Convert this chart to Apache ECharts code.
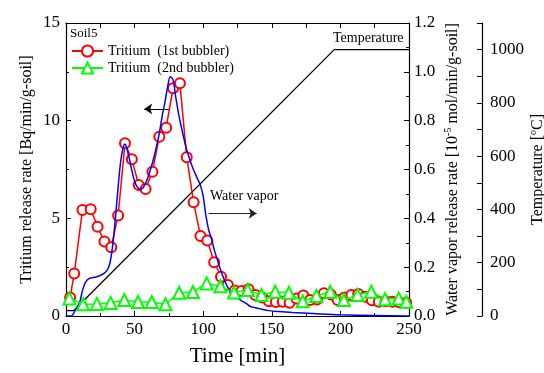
<!DOCTYPE html>
<html>
<head>
<meta charset="utf-8">
<script src="https://cdn.jsdelivr.net/npm/echarts@6/dist/echarts.min.js"></script>
<style>html,body{margin:0;padding:0;background:#fff}#chart{width:544px;height:373px}</style>
</head>
<body>
<div id="chart"></div>
<script>
// Soil5 tritium / water vapour release vs time, three y scales.
const redTime = [3, 6, 12, 18, 23, 28, 33, 38, 43, 48, 53, 58, 63, 68, 73, 78, 83, 88, 93, 98,
  103, 108, 113, 118, 123, 128, 133, 138, 143, 148, 153, 158, 163, 168, 173, 178, 183, 188, 193, 198,
  203, 208, 213, 218, 223, 228, 233, 238, 243, 248];
const redRate = [0.95, 2.17, 5.43, 5.46, 4.57, 3.81, 3.52, 5.15, 8.84, 8.02, 6.71, 6.5, 7.39, 9.18, 9.64, 11.66, 11.91, 8.13, 5.82, 4.1,
  3.87, 2.75, 2.01, 1.59, 1.31, 1.28, 1.37, 1.08, 0.95, 0.75, 0.72, 0.73, 0.68, 0.9, 1.05, 0.82, 0.85, 1.16, 1.1, 0.82,
  0.95, 1.08, 1.13, 0.99, 0.8, 0.73, 0.75, 0.73, 0.7, 0.68];

const greenTime = [2.5, 12.5, 22.5, 32.5, 42.5, 52.5, 62.5, 72.5, 82.5, 92.5, 102.5, 112.5, 122.5,
  132.5, 142.5, 152.5, 162.5, 172.5, 182.5, 192.5, 202.5, 212.5, 222.5, 232.5, 242.5, 248];
const greenRate = [0.9, 0.6, 0.62, 0.67, 0.82, 0.72, 0.72, 0.6, 1.19, 1.23, 1.67, 1.52, 1.2,
  1.33, 1.08, 1.24, 1.19, 0.75, 1.03, 1.24, 0.82, 1.08, 1.24, 0.86, 0.9, 0.73];

// water vapour, 10^-5 mol/min/g-soil (right axis)
const vaporTime = [0, 4, 6, 8, 10, 12, 14, 17, 22, 27, 30, 32, 34, 36, 38, 40, 42, 43, 44, 46, 48, 50,
  52, 54, 56, 58, 60, 62, 64, 66, 68, 70, 72, 74, 76, 78, 80, 82, 84, 86, 88, 90, 92, 94, 96, 98, 100,
  102, 104, 106, 108, 110, 112, 114, 116, 118, 120, 122, 125, 128, 131, 134, 138, 142, 148, 155, 165,
  180, 200, 225, 250];
const vaporRate = [0, 0, 0.016, 0.036, 0.056, 0.104, 0.136, 0.154, 0.16, 0.172, 0.188, 0.216, 0.288, 0.4, 0.528, 0.64, 0.696, 0.704, 0.692, 0.648, 0.596, 0.552,
  0.528, 0.52, 0.524, 0.544, 0.572, 0.608, 0.648, 0.696, 0.748, 0.816, 0.872, 0.936, 0.98, 0.968, 0.896, 0.83, 0.775, 0.725, 0.68, 0.645, 0.612, 0.585, 0.56, 0.535, 0.49,
  0.41, 0.352, 0.316, 0.272, 0.236, 0.2, 0.168, 0.14, 0.116, 0.1, 0.088, 0.074, 0.062, 0.053, 0.04, 0.034, 0.029, 0.022, 0.018, 0.014,
  0.01, 0.005, 0.002, 0];

const tempTime = [0, 5.5, 195.5, 250];
const tempValue = [20, 20, 1000, 1000];

const SERIF = "'Liberation Serif', 'DejaVu Serif', serif";
const INK = "#000";
const RED = "#ff0000", GREEN = "#00ff00", BLUE = "#0000ff";

const zip = (xs, ys) => xs.map((x, i) => [x, ys[i]]);

const axisLine = { show: true, onZero: false, lineStyle: { color: INK, width: 1.2 } };
const tick = { show: true, inside: true, length: 5, lineStyle: { color: INK, width: 1 } };
const minor = { show: true, splitNumber: 2, length: 3, lineStyle: { color: INK, width: 1 } };
const label = { color: INK, fontFamily: SERIF, fontSize: 17 };
const nameStyle = {
  color: INK, fontFamily: SERIF, fontSize: 16,
  rich: { sup: { color: INK, fontFamily: SERIF, fontSize: 10, padding: [0, 0, 9, 0] } },
};
const arrow = (color) => ({
  silent: true, symbol: ["none", "arrow"], symbolSize: 8,
  label: { show: false }, lineStyle: { color, width: 1, type: "solid" },
  itemStyle: { color },
});

const chart = echarts.init(document.getElementById("chart"), null, { renderer: "canvas" });
chart.setOption({
  animation: false,
  backgroundColor: "#fff",
  grid: { left: 66, right: 135, top: 23, bottom: 57, outerBoundsMode: "none", containLabel: false },
  legend: {
    data: ["Tritium  (1st bubbler)", "Tritium  (2nd bubbler)"],
    orient: "vertical", left: 71, top: 44, padding: 0,
    itemWidth: 31, itemHeight: 14, itemGap: 3,
    textStyle: { color: INK, fontFamily: SERIF, fontSize: 14 },
  },
  graphic: [
    { type: "text", left: 70, top: 27, style: { text: "Soil5", font: "13px " + SERIF, fill: INK } },
    { type: "text", left: 333, top: 31, style: { text: "Temperature", font: "14px " + SERIF, fill: INK } },
    { type: "text", left: 210, top: 189, style: { text: "Water vapor", font: "14px " + SERIF, fill: INK } },
  ],
  xAxis: [
    {
      type: "value", min: 0, max: 250, interval: 50, position: "bottom",
      axisLine, axisTick: tick, minorTick: minor, splitLine: { show: false },
      axisLabel: { ...label, margin: 5 },
      name: "Time [min]", nameLocation: "middle", nameGap: 30, nameMoveOverlap: false,
      nameTextStyle: { color: INK, fontFamily: SERIF, fontSize: 21 },
    },
    {
      type: "value", min: 0, max: 250, interval: 25, position: "top",
      axisLine, axisTick: tick, axisLabel: { show: false }, splitLine: { show: false },
    },
  ],
  yAxis: [
    {
      type: "value", min: 0, max: 15, interval: 5, position: "left",
      axisLine, axisTick: tick, minorTick: minor, splitLine: { show: false },
      axisLabel: { ...label, margin: 6 },
      name: "Tritium release rate [Bq/min/g-soil]", nameLocation: "middle", nameRotate: 90,
      nameGap: 31, nameMoveOverlap: false, nameTextStyle: nameStyle,
    },
    {
      type: "value", min: 0, max: 1.2, interval: 0.2, position: "right",
      axisLine, axisTick: tick, minorTick: minor, splitLine: { show: false },
      axisLabel: { ...label, margin: 5, formatter: (v) => v.toFixed(1) },
      name: "Water vapor release rate [10{sup|-5} mol/min/g-soil]", nameLocation: "middle", nameRotate: 90,
      nameGap: 34, nameMoveOverlap: false, nameTextStyle: nameStyle,
    },
    {
      type: "value", min: 0, max: 1100, interval: 100, position: "right", offset: 73,
      axisLine, axisTick: tick, splitLine: { show: false },
      axisLabel: { ...label, margin: 8, formatter: (v) => (v % 200 === 0 && v <= 1000 ? String(v) : "") },
      name: "Temperature [{sup|o}C]", nameLocation: "middle", nameRotate: 90,
      nameGap: 46, nameMoveOverlap: false, nameTextStyle: nameStyle,
    },
  ],
  series: [
    {
      name: "Temperature", type: "line", xAxisIndex: 0, yAxisIndex: 2,
      data: zip(tempTime, tempValue), showSymbol: false,
      lineStyle: { color: INK, width: 1.3 }, z: 2,
    },
    {
      name: "Tritium  (1st bubbler)", type: "line", xAxisIndex: 0, yAxisIndex: 0,
      data: zip(redTime, redRate), symbol: "circle", symbolSize: 10,
      itemStyle: { color: "#fff", borderColor: RED, borderWidth: 2 },
      lineStyle: { color: RED, width: 1.5 }, z: 3,
      markLine: { ...arrow(INK), data: [[{ coord: [75, 10.6] }, { coord: [57, 10.6] }]] },
    },
    {
      name: "Water vapor", type: "line", xAxisIndex: 0, yAxisIndex: 1,
      data: zip(vaporTime, vaporRate), showSymbol: false, smooth: 0.3,
      lineStyle: { color: BLUE, width: 1.5 }, z: 4,
      markLine: { ...arrow("#222"), data: [[{ coord: [104, 0.42] }, { coord: [139, 0.42] }]] },
    },
    {
      name: "Tritium  (2nd bubbler)", type: "line", xAxisIndex: 0, yAxisIndex: 0,
      data: zip(greenTime, greenRate), symbol: "triangle", symbolSize: 12,
      itemStyle: { color: "#fff", borderColor: GREEN, borderWidth: 2 },
      lineStyle: { color: GREEN, width: 1.5 }, z: 5,
    },
  ],
});
</script>
</body>
</html>
